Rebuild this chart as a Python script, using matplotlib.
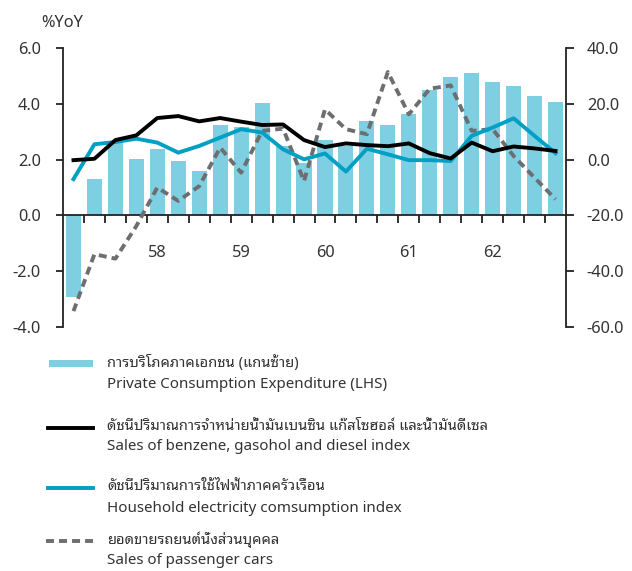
import matplotlib
matplotlib.use("Agg")
import matplotlib.pyplot as plt
from matplotlib.lines import Line2D
from matplotlib.patches import Rectangle
import numpy as np

# ---------------- data ----------------
quarters = list(range(24))
xtick_pos = [4, 8, 12, 16, 20]
xtick_labels = ["58", "59", "60", "61", "62"]

pce = [-2.92, 1.30, 2.63, 2.02, 2.38, 1.95, 1.59, 3.24, 3.18, 4.02, 2.47, 1.88,
       2.70, 2.47, 3.39, 3.24, 3.63, 4.50, 4.97, 5.10, 4.78, 4.65, 4.29, 4.07]
fuel = [-0.2, 0.3, 7.0, 8.7, 14.9, 15.6, 13.7, 14.9, 13.6, 12.4, 12.6, 7.0,
        4.5, 5.8, 5.2, 4.8, 5.8, 2.3, 0.4, 6.1, 3.0, 4.7, 4.0, 3.1]
elec = [-7.0, 5.5, 6.3, 7.5, 6.1, 2.5, 4.9, 7.9, 10.9, 9.7, 3.7, 0.1,
        2.2, -4.3, 3.9, 1.9, -0.2, -0.2, -0.5, 8.5, 11.5, 14.8, 8.5, 2.3]
cars = [-54.3, -33.9, -35.5, -23.8, -10.0, -14.8, -9.5, 4.3, -4.7, 10.3, 11.1, -7.7,
        18.0, 10.9, 9.1, 31.4, 16.2, 25.4, 26.6, 10.3, 10.9, 1.3, -6.5, -14.2]

left_ticks = [-4, -2, 0, 2, 4, 6]
left_labels = ["-4.0", "-2.0", "0.0", "2.0", "4.0", "6.0"]
right_ticks = [-60, -40, -20, 0, 20, 40]
right_labels = ["-60.0", "-40.0", "-20.0", "0.0", "20.0", "40.0"]

legend_th = ["การบริโภคภาคเอกชน (แกนซ้าย)",
             "ดัชนีปริมาณการจำหน่ายน้ำมันเบนซิน แก๊สโซฮอล์ และน้ำมันดีเซล",
             "ดัชนีปริมาณการใช้ไฟฟ้าภาคครัวเรือน",
             "ยอดขายรถยนต์นั่งส่วนบุคคล"]
legend_en = ["Private Consumption Expenditure (LHS)",
             "Sales of benzene, gasohol and diesel index",
             "Household electricity comsumption index",
             "Sales of passenger cars"]

plt.rcParams["font.family"] = ["Noto Sans Thai Looped", "Loma", "DejaVu Sans"]

BAR = "#7fcfe2"
BLUE = "#009fc4"
GRAY = "#6d6e71"
TXT = "#333333"
AX = "#222222"
LW = 2.8
DASH = (2.05, 1.3)
FS = 11.8
FS_TH = 10.6
FS_EN = 10.9

W, H = 632, 571
fig = plt.figure(figsize=(W / 100, H / 100), dpi=100)
ax = fig.add_axes([63 / W, 1 - 327 / H, (566 - 63) / W, (327 - 48) / H])
ax2 = ax.twinx()

ax.bar(quarters, pce, width=0.72, color=BAR, zorder=1)
ax.set_xlim(-0.5, 23.5)
ax.set_ylim(-4, 6)
ax.set_yticks(left_ticks)
ax.set_yticklabels(left_labels)

ax2.plot(quarters, cars, color=GRAY, lw=LW, dashes=DASH, zorder=2)
ax2.plot(quarters, elec, color=BLUE, lw=LW, zorder=3)
ax2.plot(quarters, fuel, color="black", lw=LW, zorder=4)
ax2.set_ylim(-60, 40)
ax2.set_yticks(right_ticks)
ax2.set_yticklabels(right_labels)

for a in (ax, ax2):
    a.spines["top"].set_visible(False)
    a.patch.set_visible(False)
ax.spines["right"].set_visible(False)
ax2.spines["left"].set_visible(False)
ax2.spines["bottom"].set_visible(False)
ax.spines["bottom"].set_position(("data", 0))
for s in ("left", "bottom"):
    ax.spines[s].set_color(AX)
    ax.spines[s].set_linewidth(1.3)
ax2.spines["right"].set_color(AX)
ax2.spines["right"].set_linewidth(1.3)

ax.set_xticks(xtick_pos)
ax.set_xticklabels(xtick_labels)
ax.set_xticks(np.arange(0.5, 23.5, 1), minor=True)
ax.tick_params(axis="x", which="major", length=0, pad=21, labelsize=FS, labelcolor=TXT)
ax.tick_params(axis="x", which="minor", length=6, width=1.3, direction="out", color=AX)
ax.tick_params(axis="y", length=5, width=1.3, pad=11, labelsize=FS, labelcolor=TXT, color=AX)
ax2.tick_params(axis="y", length=6, width=1.3, pad=9, labelsize=FS, labelcolor=TXT, color=AX)

fig.text(41 / W, 1 - 23 / H, "%YoY", ha="left", va="center", fontsize=FS, color=TXT)

# ---------------- legend ----------------
rows = [(363, 385), (427, 447), (487, 508), (540, 560)]
for i, (yt, ye) in enumerate(rows):
    fig.text(107 / W, 1 - yt / H, legend_th[i], ha="left", va="center", fontsize=FS_TH, color=TXT)
    fig.text(107 / W, 1 - ye / H, legend_en[i], ha="left", va="center", fontsize=FS_EN, color=TXT)
fig.add_artist(Rectangle((49 / W, 1 - 367 / H), 44 / W, 7 / H, transform=fig.transFigure,
                         color=BAR, lw=0))
fig.add_artist(Line2D([48 / W, 93 / W], [1 - 428 / H] * 2, transform=fig.transFigure,
                      color="black", lw=LW))
fig.add_artist(Line2D([48 / W, 93 / W], [1 - 488 / H] * 2, transform=fig.transFigure,
                      color=BLUE, lw=LW))
fig.add_artist(Line2D([46 / W, 97 / W], [1 - 541 / H] * 2, transform=fig.transFigure,
                      color=GRAY, lw=LW, dashes=DASH))

fig.savefig("out.png", dpi=100)
